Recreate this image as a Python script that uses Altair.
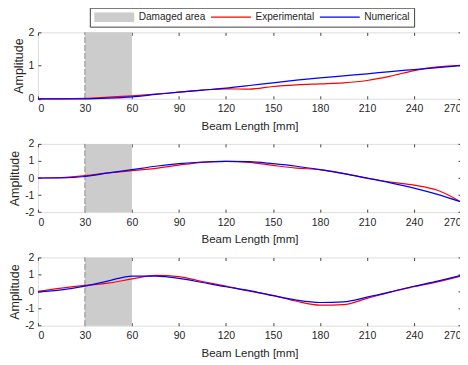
import altair as alt
import pandas as pd

# ---------------- data ----------------
BEAM_X = [0, 15, 30, 45, 60, 75, 90, 105, 120, 135, 150, 165, 180, 195, 210, 225, 240, 255, 270]
X_TICKS = [0, 30, 60, 90, 120, 150, 180, 210, 240, 270]

SERIES = ["Damaged area", "Experimental", "Numerical"]
COLORS = ["#cccccc", "#ff0000", "#0000ff"]
WIDTHS = [10, 1.2, 1.2]

DAMAGE_START = [30]
DAMAGE_END = [60]

MODE1_EXP = [0.0, 0.0, 0.01, 0.05, 0.09, 0.14, 0.20, 0.26, 0.30, 0.29, 0.37, 0.42, 0.45, 0.48, 0.55, 0.68, 0.85, 0.96, 1.01]
MODE1_NUM = [0.0, 0.0, 0.0, 0.02, 0.06, 0.13, 0.20, 0.26, 0.32, 0.40, 0.48, 0.56, 0.63, 0.69, 0.75, 0.82, 0.88, 0.94, 1.0]

MODE2_EXP = [0.0, 0.03, 0.14, 0.30, 0.43, 0.57, 0.76, 0.92, 0.98, 0.92, 0.74, 0.58, 0.49, 0.27, 0.0, -0.24, -0.42, -0.72, -1.40]
MODE2_NUM = [0.0, 0.01, 0.09, 0.30, 0.49, 0.69, 0.84, 0.94, 0.98, 0.96, 0.84, 0.69, 0.49, 0.26, -0.01, -0.28, -0.59, -0.96, -1.40]

MODE3_EXP = [0.01, 0.20, 0.36, 0.49, 0.74, 0.95, 0.88, 0.59, 0.32, 0.03, -0.22, -0.57, -0.80, -0.77, -0.40, -0.03, 0.28, 0.57, 0.91]
MODE3_NUM = [-0.03, 0.10, 0.32, 0.63, 0.91, 0.90, 0.77, 0.53, 0.28, 0.06, -0.24, -0.50, -0.64, -0.60, -0.33, -0.02, 0.31, 0.61, 0.95]

Y_RANGE_1 = [0, 2]
Y_TICKS_1 = [0, 1, 2]
Y_RANGE_23 = [-2, 2]
Y_TICKS_23 = [-2, -1, 0, 1, 2]

# ---------------- style ----------------
FONT = "Liberation Sans"
TXT = "#262626"
FRAME = "#404040"
W = 424

AX = dict(domain=False, grid=False, tickSize=3, offset=-3, tickColor=FRAME, tickWidth=1,
          labelFont=FONT, labelFontSize=10.5, labelColor=TXT,
          titleFont=FONT, titleFontWeight="normal", titleColor=TXT)

LEG = alt.Legend(orient="none", legendX=52, legendY=-24.7, direction="horizontal", columns=3, title=None,
                 symbolType="M-400,0H400", symbolSize=0.01, symbolOffset=15, labelOffset=19,
                 clipHeight=10, columnPadding=5, padding=4, strokeColor=FRAME, fillColor="white",
                 labelFont=FONT, labelFontSize=10.1, labelColor=TXT, symbolFillColor="transparent")


def panel(exp, num, yr, yticks, h):
    n = len(BEAM_X)
    df = pd.DataFrame({"x": BEAM_X * 2, "amp": exp + num,
                       "series": ["Experimental"] * n + ["Numerical"] * n})
    dmg = pd.DataFrame({"x1": DAMAGE_START, "x2": DAMAGE_END, "y1": [yr[0]], "y2": [yr[1]]})
    xs = alt.Scale(domain=[0, 270], nice=False, zero=False)
    ys = alt.Scale(domain=yr, nice=False, zero=False)

    rect = alt.Chart(dmg).mark_rect(color="#cccccc").encode(
        x=alt.X("x1:Q", scale=xs, axis=alt.Axis(values=X_TICKS, orient="bottom", title="Beam Length [mm]",
                                                  labelPadding=5, titlePadding=6, titleFontSize=11.5, **AX)),
        x2="x2:Q",
        y=alt.Y("y1:Q", scale=ys, axis=alt.Axis(values=yticks, orient="left", title="Amplitude",
                                                  labelPadding=4, titlePadding=3, titleFontSize=12.5,
                                                  labelExpr="toString(datum.value)", **AX)),
        y2="y2:Q",
    )
    rule = alt.Chart(dmg).mark_rule(color="#8c8c8c", strokeDash=[6, 2], strokeWidth=1).encode(
        x=alt.X("x1:Q", scale=xs, axis=alt.Axis(values=X_TICKS, orient="top", labels=False, title=None, **AX)),
        y=alt.Y("y1:Q", scale=ys, axis=alt.Axis(values=yticks, orient="right", labels=False, title=None, **AX)),
        y2="y2:Q",
    )
    lines = alt.Chart(df).mark_line(interpolate="monotone").encode(
        x=alt.X("x:Q", scale=xs, axis=None),
        y=alt.Y("amp:Q", scale=ys, axis=None),
        color=alt.Color("series:N", scale=alt.Scale(domain=SERIES, range=COLORS), legend=LEG),
        strokeWidth=alt.StrokeWidth("series:N", scale=alt.Scale(type="ordinal", domain=SERIES, range=WIDTHS),
                                    legend=LEG),
    )
    return alt.layer(rect, rule, lines).resolve_axis(x="independent", y="independent").properties(width=W, height=h)


p1 = panel(MODE1_EXP, MODE1_NUM, Y_RANGE_1, Y_TICKS_1, 66.6)
p2 = panel(MODE2_EXP, MODE2_NUM, Y_RANGE_23, Y_TICKS_23, 68.4)
p3 = panel(MODE3_EXP, MODE3_NUM, Y_RANGE_23, Y_TICKS_23, 68.4)

chart = alt.vconcat(p1, p2, p3, spacing=44.8, bounds="flush").properties(
    padding={"left": 0, "top": -2, "right": -4, "bottom": 0}
).configure_view(stroke=FRAME, strokeWidth=1).configure(font=FONT, background="white")

chart.save("out.html", embed_options={"renderer": "svg", "actions": False})
